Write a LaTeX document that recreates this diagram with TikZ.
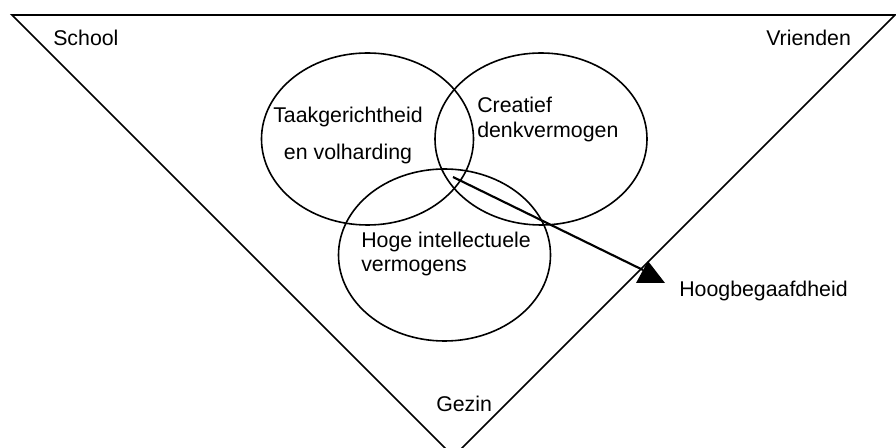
\documentclass[tikz,border=0pt]{standalone}
\usepackage{fontspec}
\setmainfont{Liberation Sans}
\usetikzlibrary{shapes.geometric}
\begin{document}
\begin{tikzpicture}[x=0.75pt,y=-0.75pt,
  lbl/.style={inner sep=0pt, font=\fontsize{16}{18}\selectfont},
  ring/.style={draw, ellipse, line width=1.2pt, minimum width=159pt, minimum height=129pt, inner sep=0pt},
  frame/.style={line width=1.3pt},
  pointer/.style={line width=1.6pt}]
\useasboundingbox (0,0) rectangle (896,448);
\clip (0,0) rectangle (896,448);
% context triangle
\coordinate (tl) at (12,15);
\coordinate (tr) at (895,15);
\coordinate (bot) at (453.5,456.5);
\draw[frame] (tl) -- (tr) -- (bot) -- cycle;
% three rings
\node[ring] (taak) at (367.5,139) {};
\node[ring] (crea) at (541,139) {};
\node[ring] (hoge) at (444.5,255) {};
% ring labels (anchored at the baseline of the last line)
\node[lbl, anchor=base, align=center, font=\fontsize{16}{27.75}\selectfont] (taakt) at (348,160) {Taakgerichtheid\\en volharding};
\node[lbl, anchor=base west, align=left, font=\fontsize{16}{18.75}\selectfont] (creat) at (477,138) {Creatief\\denkvermogen};
\node[lbl, anchor=base west, align=left, font=\fontsize{16}{18}\selectfont] (hoget) at (361,272) {Hoge intellectuele\\vermogens};
% corner labels
\node[lbl, anchor=base west] (school) at (53,46) {School};
\node[lbl, anchor=base west] (vrienden) at (766,46) {Vrienden};
\node[lbl, anchor=base west] (gezin) at (436,412) {Gezin};
\node[lbl, anchor=base west] (hb) at (679,297) {Hoogbegaafdheid};
% pointer
\coordinate (core) at (453,177);
\coordinate (tip) at (643,270);
\draw[pointer] (core) -- (tip);
\fill (636,283) -- (665,283) -- (648,261) -- cycle;
\end{tikzpicture}
\end{document}
